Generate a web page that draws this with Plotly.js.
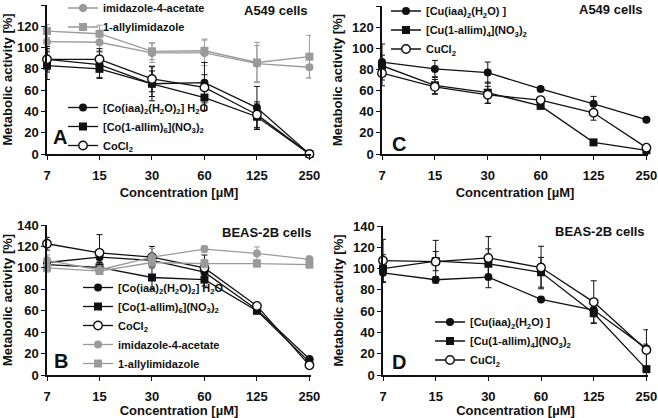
<!DOCTYPE html>
<html><head><meta charset="utf-8">
<script src="https://cdn.plot.ly/plotly-3.0.1.min.js"></script>
<style>html,body{margin:0;padding:0;background:#fff}#chart{width:658px;height:418px}</style>
</head><body><div id="chart"></div>
<script>
// ---------- data ----------
const conc = ['7', '15', '30', '60', '125', '250'];
const yTicks = [0, 20, 40, 60, 80, 100, 120, 140];

// Panel A: A549, cobalt
const aCoIaa = [89, 84, 66, 67, 43.5, 0];
const aCoIaaErr = [12, 12, 16, 19, 20, 0];
const aCoAllim = [83, 80, 66, 53, 35, 0];
const aCoAllimErr = [13, 9, 12, 12, 12, 0];
const aCoCl2 = [89, 89, 70.5, 62.5, 37, 0];
const aCoCl2Err = [10, 10, 12, 12, 12, 0];
const aImid = [105.5, 105, 95, 95, 85, 81.5];
const aImidErr = [8, 8, 9, 12, 17, 10];
const aAllyl = [115.5, 113, 96.5, 97, 86, 91.5];
const aAllylErr = [6, 8, 8, 11, 19, 20];

// Panel B: BEAS-2B, cobalt
const bCoIaa = [105, 110, 107, 96, 61, 15];
const bCoIaaErr = [4, 5, 6, 8, 3, 2];
const bCoAllim = [103, 100.5, 91, 89, 60, 12];
const bCoAllimErr = [4, 5, 11, 6, 3, 2];
const bCoCl2 = [122.5, 114, 110, 100, 64.5, 9];
const bCoCl2Err = [6, 17, 10, 12, 3, 2];
const bImid = [107, 98, 110, 117.5, 113.5, 108];
const bImidErr = [5, 4, 8, 3, 6, 3];
const bAllyl = [100, 97, 105, 104, 104, 103];
const bAllylErr = [4, 3, 5, 4, 3, 3];

// Panel C: A549, copper
const cCuIaa = [87, 80.5, 77, 61.5, 47.5, 32.5];
const cCuIaaErr = [17, 8, 10, 2, 7, 2];
const cCuAllim = [83.5, 65, 58, 45.5, 11, 3.5];
const cCuAllimErr = [10, 8, 10, 2, 2, 2];
const cCuCl2 = [76.5, 63.5, 56, 51, 39, 6];
const cCuCl2Err = [12, 7, 8, 2, 7, 2];

// Panel D: BEAS-2B, copper
const dCuIaa = [96, 89.5, 92, 71, 61, 25];
const dCuIaaErr = [9, 3, 10, 2, 3, 4];
const dCuAllim = [100, 107, 104.5, 96.5, 58, 5.5];
const dCuAllimErr = [13, 9, 14, 14, 9, 20];
const dCuCl2 = [107.5, 106.5, 110, 101, 68.5, 23.5];
const dCuCl2Err = [20, 20, 20, 20, 20, 19];

const nCoIaa = '[Co(iaa)<sub>2</sub>(H<sub>2</sub>O)<sub>2</sub>] H<sub>2</sub>O';
const nCoAllim = '[Co(1-allim)<sub>6</sub>](NO<sub>3</sub>)<sub>2</sub>';
const nCoCl2 = 'CoCl<sub>2</sub>';
const nCuIaa = '[Cu(iaa)<sub>2</sub>(H<sub>2</sub>O) ]';
const nCuAllim = '[Cu(1-allim)<sub>4</sub>](NO<sub>3</sub>)<sub>2</sub>';
const nCuCl2 = 'CuCl<sub>2</sub>';
const nImid = 'imidazole-4-acetate';
const nAllyl = '1-allylimidazole';

// ---------- styles ----------
const BLK = '#111111';
const GRY = '#9a9a9a';
const FONT = 'Liberation Sans, Arial, Helvetica, sans-serif';

function tr(y, err, name, kind, xa, ya, leg) {
  const gray = kind === 'gcirc' || kind === 'gsq';
  const col = gray ? GRY : BLK;
  const marker = {size: 8, color: col, symbol: 'circle', line: {width: 0, color: col}};
  if (kind === 'sq' || kind === 'gsq') marker.symbol = 'square';
  if (kind === 'open') { marker.color = '#ffffff'; marker.line = {width: 1.4, color: BLK}; marker.size = 8.5; }
  return {
    type: 'scatter', mode: 'lines+markers', x: conc, y: y, name: name,
    xaxis: xa, yaxis: ya, legend: leg, cliponaxis: false,
    line: {color: col, width: 1.3}, marker: marker,
    error_y: {type: 'data', array: err, visible: true, color: col, thickness: 1, width: 3}
  };
}

const data = [
  tr(aImid, aImidErr, nImid, 'gcirc', 'x', 'y', 'legend2'),
  tr(aAllyl, aAllylErr, nAllyl, 'gsq', 'x', 'y', 'legend2'),
  tr(aCoIaa, aCoIaaErr, nCoIaa, 'fill', 'x', 'y', 'legend'),
  tr(aCoAllim, aCoAllimErr, nCoAllim, 'sq', 'x', 'y', 'legend'),
  tr(aCoCl2, aCoCl2Err, nCoCl2, 'open', 'x', 'y', 'legend'),

  tr(bCoIaa, bCoIaaErr, nCoIaa, 'fill', 'x2', 'y2', 'legend3'),
  tr(bCoAllim, bCoAllimErr, nCoAllim, 'sq', 'x2', 'y2', 'legend3'),
  tr(bCoCl2, bCoCl2Err, nCoCl2, 'open', 'x2', 'y2', 'legend3'),
  tr(bImid, bImidErr, nImid, 'gcirc', 'x2', 'y2', 'legend3'),
  tr(bAllyl, bAllylErr, nAllyl, 'gsq', 'x2', 'y2', 'legend3'),

  tr(cCuIaa, cCuIaaErr, nCuIaa, 'fill', 'x3', 'y3', 'legend4'),
  tr(cCuAllim, cCuAllimErr, nCuAllim, 'sq', 'x3', 'y3', 'legend4'),
  tr(cCuCl2, cCuCl2Err, nCuCl2, 'open', 'x3', 'y3', 'legend4'),

  tr(dCuIaa, dCuIaaErr, nCuIaa, 'fill', 'x4', 'y4', 'legend5'),
  tr(dCuAllim, dCuAllimErr, nCuAllim, 'sq', 'x4', 'y4', 'legend5'),
  tr(dCuCl2, dCuCl2Err, nCuCl2, 'open', 'x4', 'y4', 'legend5')
];

const TICKFONT = {family: FONT, size: 13, weight: 'bold', color: BLK};
const TITLEFONT = {family: FONT, size: 13, weight: 'bold', color: BLK};

function xAx(domain, anchor) {
  return {
    domain: domain, anchor: anchor, type: 'category',
    categoryorder: 'array', categoryarray: conc,
    range: [0, 5.03], showline: true, linecolor: BLK, linewidth: 1.5,
    ticks: 'outside', ticklen: 4, tickwidth: 1.3, tickcolor: BLK,
    ticklabelstandoff: 5,
    showgrid: false, zeroline: false, tickfont: TICKFONT,
    title: {text: 'Concentration [\u00b5M]', font: TITLEFONT, standoff: 6}
  };
}
function yAx(domain, anchor) {
  return {
    domain: domain, anchor: anchor, range: [0, 140],
    tickmode: 'array', tickvals: yTicks, ticktext: yTicks.map(String),
    showline: true, linecolor: BLK, linewidth: 1.5,
    ticks: 'outside', ticklen: 4, tickwidth: 1.3, tickcolor: BLK,
    showgrid: false, zeroline: false, tickfont: TICKFONT,
    title: {text: 'Metabolic activity [%]', font: TITLEFONT, standoff: 6}
  };
}
function leg(x, y) {
  return {x: x, y: y, xanchor: 'left', yanchor: 'top', bgcolor: 'rgba(0,0,0,0)',
          font: {size: 11, family: FONT, weight: 'bold', color: BLK}, traceorder: 'normal'};
}
function ann(text, xref, yref, x, y, xanchor, size) {
  return {text: text, xref: xref, yref: yref, x: x, y: y, xanchor: xanchor, yanchor: 'middle',
          showarrow: false, font: {size: size, family: FONT, weight: 'bold', color: BLK}};
}

const W = 658, H = 418;
const layout = {
  width: W, height: H,
  margin: {l: 0, r: 0, t: 0, b: 0, autoexpand: false},
  paper_bgcolor: '#ffffff', plot_bgcolor: 'rgba(0,0,0,0)',
  font: {family: FONT, size: 13, color: BLK, weight: 'bold'},
  showlegend: true,
  xaxis: xAx([47 / W, 311 / W], 'y'),
  yaxis: yAx([1 - 154 / H, 1 - 5 / H], 'x'),
  xaxis2: xAx([47 / W, 311 / W], 'y2'),
  yaxis2: yAx([1 - 375 / H, 1 - 225 / H], 'x2'),
  xaxis3: xAx([382 / W, 648 / W], 'y3'),
  yaxis3: yAx([1 - 154 / H, 1 - 6 / H], 'x3'),
  xaxis4: xAx([383 / W, 648 / W], 'y4'),
  yaxis4: yAx([1 - 375 / H, 1 - 226 / H], 'x4'),
  legend: leg(63 / W, 1 - 93 / H),
  legend2: leg(63 / W, 1 + 6.5 / H),
  legend3: leg(78 / W, 1 - 273 / H),
  legend4: leg(386 / W, 1 + 3.5 / H),
  legend5: leg(430 / W, 1 - 307.5 / H),
  annotations: [
    ann('A', 'x domain', 'y domain', 0.015, 0.115, 'left', 20),
    ann('B', 'x2 domain', 'y2 domain', 0.02, 0.095, 'left', 20),
    ann('C', 'x3 domain', 'y3 domain', 0.03, 0.065, 'left', 20),
    ann('D', 'x4 domain', 'y4 domain', 0.025, 0.09, 'left', 20),
    ann('A549 cells', 'x domain', 'y domain', 0.998, 0.966, 'right', 13),
    ann('A549 cells', 'x3 domain', 'y3 domain', 0.99, 0.973, 'right', 13),
    ann('BEAS-2B cells', 'x2 domain', 'y2 domain', 1.01, 0.947, 'right', 13),
    ann('BEAS-2B cells', 'x4 domain', 'y4 domain', 0.995, 0.96, 'right', 13)
  ]
};

Plotly.newPlot('chart', data, layout, {displayModeBar: false});
</script>
</body></html>
